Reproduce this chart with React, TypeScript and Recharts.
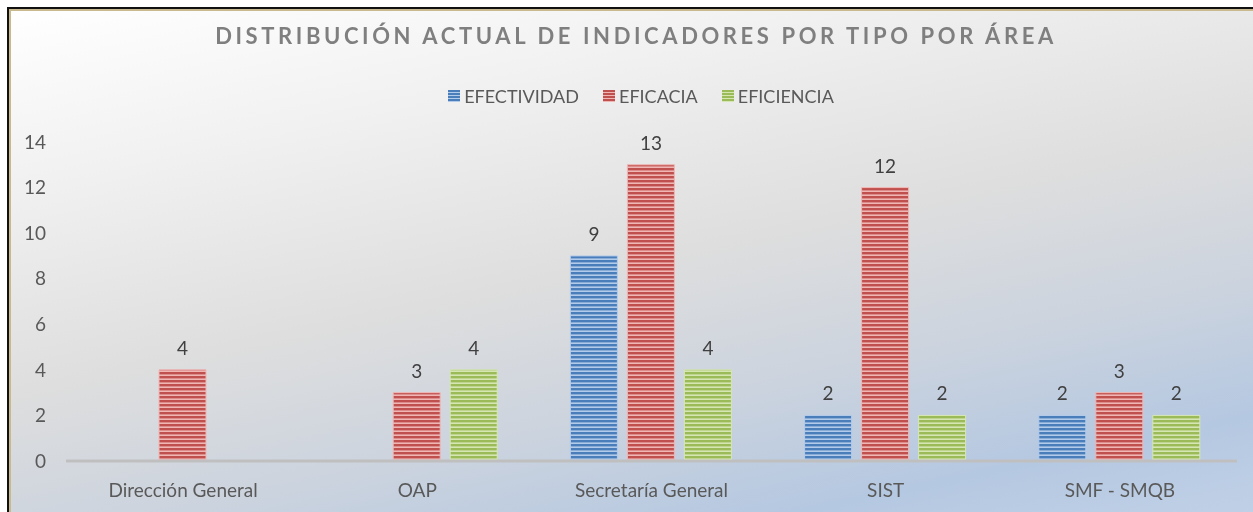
import { Bar, BarChart, LabelList, XAxis, YAxis } from 'recharts';

const areas = ['Dirección General', 'OAP', 'Secretaría General', 'SIST', 'SMF - SMQB'];
const efectividad = [null, null, 9, 2, 2];
const eficacia = [4, 3, 13, 12, 3];
const eficiencia = [null, 4, 4, 2, 2];
const yTicks = [0, 2, 4, 6, 8, 10, 12, 14];

const title = 'DISTRIBUCIÓN ACTUAL DE INDICADORES POR TIPO POR ÁREA';

const series = [
  { key: 'efectividad', name: 'EFECTIVIDAD', dark: '#4a7ebb', light: '#b3cbea' },
  { key: 'eficacia', name: 'EFICACIA', dark: '#c0504d', light: '#f0b6b4' },
  { key: 'eficiencia', name: 'EFICIENCIA', dark: '#9bbb59', light: '#d6e6b3' },
];

const data = areas.map((area, i) => ({
  area,
  efectividad: efectividad[i],
  eficacia: eficacia[i],
  eficiencia: eficiencia[i],
}));

const FONT = 'Lato, "Open Sans", sans-serif';

export default function App() {
  return (
    <div>
      <div
        style={{
          position: 'fixed',
          left: 7,
          top: 7,
          width: 1270,
          height: 530,
          borderTop: '2px solid #111',
          borderLeft: '2px solid #111',
          boxSizing: 'border-box',
        }}
      >
        <div
          style={{
            position: 'absolute',
            inset: 0,
            borderTop: '2px solid #c9b98e',
            borderLeft: '2px solid #c9b98e',
            background:
              'linear-gradient(168deg, #ffffff 0%, #f1f1f1 22%, #dedede 48%, #cdd4de 66%, #b5c8e1 84%, #c3d3e8 100%)',
          }}
        />
      </div>
      <div
        style={{
          position: 'fixed',
          left: 0,
          top: 22,
          width: 1272,
          textAlign: 'center',
          fontFamily: FONT,
          fontWeight: 700,
          fontSize: 22,
          letterSpacing: 3.6,
          color: '#7f7f7f',
        }}
      >
        {title}
      </div>
      <div
        style={{
          position: 'fixed',
          left: 0,
          top: 85,
          width: 1282,
          display: 'flex',
          justifyContent: 'center',
          gap: 24,
          fontFamily: FONT,
          fontSize: 18,
          color: '#595959',
        }}
      >
        {series.map((s) => (
          <span key={s.key} style={{ display: 'flex', alignItems: 'center', gap: 4 }}>
            <span
              style={{
                display: 'inline-block',
                width: 12,
                height: 12,
                background: `repeating-linear-gradient(180deg, ${s.dark} 0 2px, ${s.light} 2px 3px)`,
              }}
            />
            {s.name}
          </span>
        ))}
      </div>
      <div style={{ position: 'fixed', left: 0, top: 0 }}>
        <BarChart
          width={1253}
          height={512}
          data={data}
          margin={{ top: 142, right: 16, bottom: 0, left: 0 }}
          barCategoryGap={36}
          barGap={10}
        >
          <defs>
            {series.map((s) => (
              <pattern
                key={s.key}
                id={`stripe-${s.key}`}
                patternUnits="userSpaceOnUse"
                width={8}
                height={4}
              >
                <rect width={8} height={4} fill={s.light} />
                <rect width={8} height={2.4} fill={s.dark} />
              </pattern>
            ))}
          </defs>
          <XAxis
            dataKey="area"
            height={51}
            axisLine={{ stroke: '#bfbfbf', strokeWidth: 3 }}
            tickLine={false}
            tickMargin={17}
            tick={{ fill: '#595959', fontSize: 19, fontFamily: FONT }}
          />
          <YAxis
            width={66}
            domain={[0, 14]}
            ticks={yTicks}
            axisLine={false}
            tickLine={false}
            tickMargin={14}
            tick={{ fill: '#595959', fontSize: 19, fontFamily: FONT }}
          />
          {series.map((s) => (
            <Bar
              key={s.key}
              dataKey={s.key}
              name={s.name}
              fill={`url(#stripe-${s.key})`}
              stroke={s.light}
              strokeWidth={1}
              isAnimationActive={false}
            >
              <LabelList
                dataKey={s.key}
                position="top"
                offset={15}
                fill="#404040"
                fontSize={19}
                fontFamily={FONT}
              />
            </Bar>
          ))}
        </BarChart>
      </div>
    </div>
  );
}
